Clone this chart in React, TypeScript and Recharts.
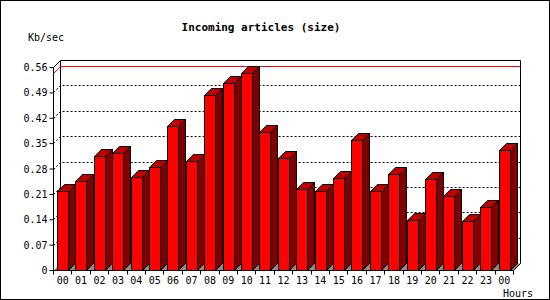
import React from "react";
import {
  BarChart,
  Bar,
  XAxis,
  YAxis,
  CartesianGrid,
  ReferenceLine,
} from "recharts";

const hours = [
  "00", "01", "02", "03", "04", "05", "06", "07", "08", "09", "10", "11",
  "12", "13", "14", "15", "16", "17", "18", "19", "20", "21", "22", "23", "00",
];

// Kb/sec per hour
const rates = [
  0.217, 0.245, 0.314, 0.322, 0.257, 0.283, 0.396, 0.3, 0.483, 0.515, 0.543,
  0.38, 0.308, 0.223, 0.217, 0.253, 0.359, 0.217, 0.264, 0.137, 0.25, 0.203,
  0.134, 0.173, 0.33,
];

const yTicks = [0, 0.07, 0.14, 0.21, 0.28, 0.35, 0.42, 0.49, 0.56];

const data = hours.map((hour, i) => ({ hour, rate: rates[i] }));
const peak = Math.max(...rates);

const DEPTH = 7;
const MONO = '"DejaVu Sans Mono", monospace';
const px = (v: number) => Math.floor(v) + 0.5;

// bar with a top and a side face, drawn like the old GD 3d bars
const Bar3D = (props: any) => {
  const { x, y, width, height } = props;
  if (height == null || !isFinite(y)) return null;
  const l = px(x);
  const r = l + Math.round(width);
  const t = px(y);
  const b = px(y + height);
  const d = DEPTH;
  return (
    <g stroke="#000" strokeWidth={1}>
      <polygon
        points={`${r},${b} ${r + d},${b - d} ${r + d},${t - d} ${r},${t}`}
        fill="#800000"
      />
      <polygon
        points={`${l},${t} ${l + d},${t - d} ${r + d},${t - d} ${r},${t}`}
        fill="#c00000"
      />
      <rect x={l} y={t} width={r - l} height={b - t} fill="#ff0000" />
    </g>
  );
};

// grid lines sit on the back wall; the bottom one also draws floor + frame
const gridLine = (p: any) => {
  const { x1, x2, y1, y, height, key } = p;
  const gy = px(y1);
  const left = px(x1);
  const right = px(x2);
  const d = DEPTH;
  const top = px(y);
  const bottom = px(y + height);

  if (Math.abs(gy - bottom) < 1) {
    return (
      <g key={key}>
        <polygon
          points={`${left},${bottom} ${right},${bottom} ${right + d},${bottom - d} ${left + d},${bottom - d}`}
          fill="#8c8c8c"
        />
        <line x1={right} y1={bottom} x2={right + d} y2={bottom - d} stroke="#000" />
        <line x1={left + d} y1={top - d} x2={left + d} y2={bottom - d} stroke="#000" />
        <line x1={right + d} y1={top - d} x2={right + d} y2={bottom - d} stroke="#000" />
      </g>
    );
  }

  const solid = Math.abs(gy - top) < 1;
  return (
    <path
      key={key}
      d={`M${left},${gy} L${left + d},${gy - d} L${right + d},${gy - d}`}
      fill="none"
      stroke="#000"
      strokeDasharray={solid ? undefined : "2 2"}
    />
  );
};

const peakLine = (p: any) => {
  const { x1, x2, y1 } = p;
  const gy = px(y1);
  const l = px(x1);
  const r = px(x2);
  return (
    <path
      d={`M${l},${gy} L${l + DEPTH},${gy - DEPTH} L${r + DEPTH},${gy - DEPTH}`}
      fill="none"
      stroke="#ff0000"
    />
  );
};

const HourTick = (p: any) => {
  const { x, y, payload, index, visibleTicksCount, width } = p;
  const step = width / visibleTicksCount;
  const ok = isFinite(step);
  return (
    <g>
      {ok && (
        <line x1={px(x - step / 2)} y1={y} x2={px(x - step / 2)} y2={y + 4} stroke="#000" />
      )}
      {ok && index === visibleTicksCount - 1 && (
        <line x1={px(x + step / 2)} y1={y} x2={px(x + step / 2)} y2={y + 4} stroke="#000" />
      )}
      <text x={x} y={y + 13} textAnchor="middle" fontFamily={MONO} fontSize={10} fill="#000">
        {payload.value}
      </text>
    </g>
  );
};

const RateTick = (p: any) => {
  const { x, y, payload } = p;
  const v = payload.value;
  return (
    <text x={x} y={y + 3.5} textAnchor="end" fontFamily={MONO} fontSize={10} fill="#000">
      {v === 0 ? "0" : v.toFixed(2)}
    </text>
  );
};

export default function App() {
  return (
    <div style={{ position: "absolute", left: 0, top: 0, width: 550, height: 300, background: "#fff" }}>
      <BarChart
        width={550}
        height={300}
        data={data}
        margin={{ top: 67.5, right: 36.5, bottom: 0, left: 0 }}
        barSize={11}
      >
        <CartesianGrid horizontal={gridLine} vertical={false} />
        <ReferenceLine y={peak} shape={peakLine} zIndex={-50} />
        <XAxis
          dataKey="hour"
          interval={0}
          height={29.5}
          tickSize={0}
          tickMargin={0}
          tickLine={false}
          axisLine={{ stroke: "#000" }}
          tick={<HourTick />}
        />
        <YAxis
          domain={[0, 0.56]}
          ticks={yTicks}
          interval={0}
          width={53.5}
          tickSize={4}
          tickMargin={2}
          axisLine={{ stroke: "#000" }}
          tickLine={{ stroke: "#000" }}
          tick={<RateTick />}
        />
        <Bar dataKey="rate" shape={<Bar3D />} isAnimationActive={false} />
      </BarChart>

      <svg
        width={550}
        height={300}
        style={{ position: "absolute", left: 0, top: 0, pointerEvents: "none" }}
      >
        <text x={261} y={31} textAnchor="middle" fontFamily={MONO} fontSize={11} fontWeight="bold" fill="#000">
          Incoming articles (size)
        </text>
        <text x={28} y={41} fontFamily={MONO} fontSize={10} fill="#000">
          Kb/sec
        </text>
        <text x={503} y={297} fontFamily={MONO} fontSize={10} fill="#000">
          Hours
        </text>
        <rect x={0.5} y={0.5} width={549} height={299} fill="none" stroke="#000" />
      </svg>
    </div>
  );
}
